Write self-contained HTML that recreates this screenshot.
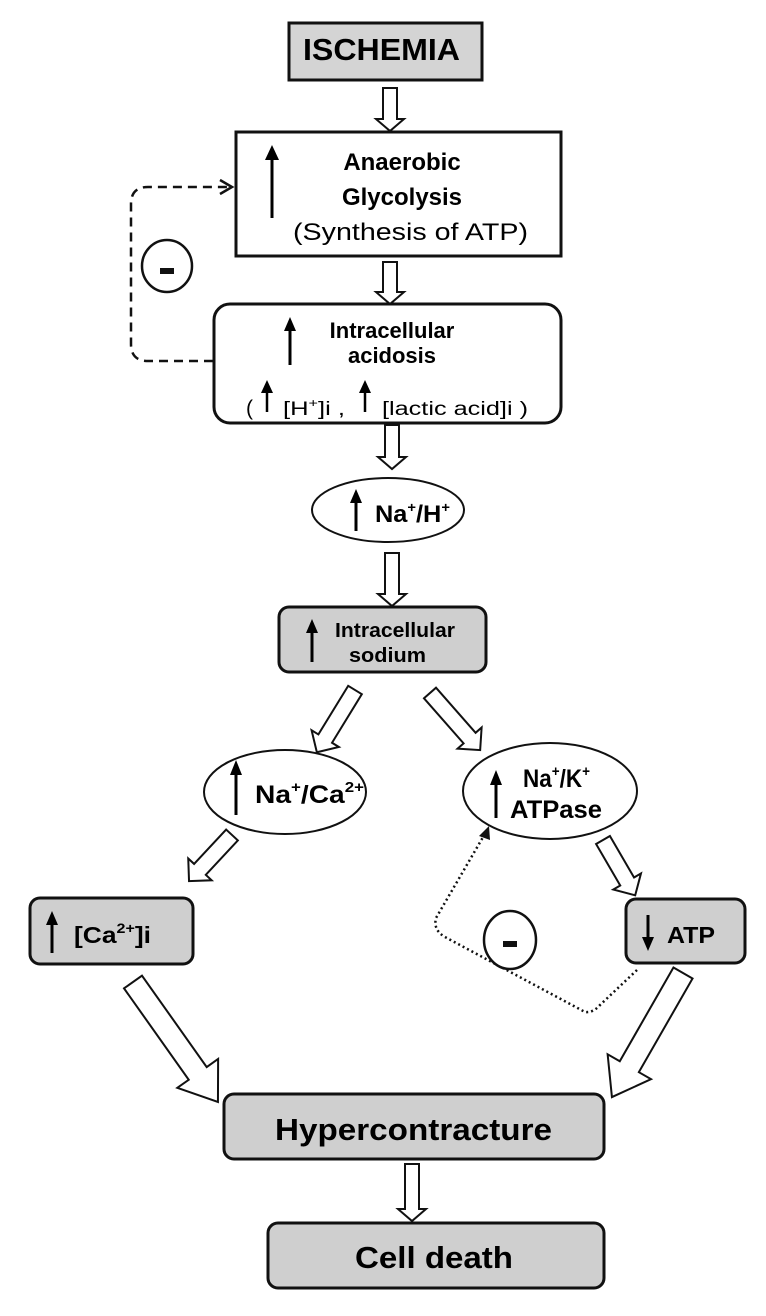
<!DOCTYPE html>
<html><head><meta charset="utf-8"><style>
html,body{margin:0;padding:0;background:#fff}
svg{display:block}
text{font-family:"Liberation Sans",Arial,sans-serif;fill:#000}
.b{font-weight:bold}
</style></head><body>
<svg width="766" height="1316" viewBox="0 0 766 1316" xmlns="http://www.w3.org/2000/svg">
<defs>
<g id="up"><line x1="0" y1="0" x2="0" y2="-1" /></g>
</defs>
<rect width="766" height="1316" fill="#fff"/>

<!-- ISCHEMIA -->
<rect x="289" y="23" width="193" height="57" fill="#d4d4d4" stroke="#111" stroke-width="3"/>
<text x="303" y="60" class="b" font-size="31" textLength="157" lengthAdjust="spacingAndGlyphs">ISCHEMIA</text>

<!-- vertical block arrows -->
<g fill="#fff" stroke="#111" stroke-width="2">
<g transform="translate(390,88)"><polygon points="-7,0 7,0 7,31 14,31 0,43 -14,31 -7,31"/></g>
<g transform="translate(390,262)"><polygon points="-7,0 7,0 7,30 14,30 0,42 -14,30 -7,30"/></g>
<g transform="translate(392,425)"><polygon points="-7,0 7,0 7,32 14,32 0,44 -14,32 -7,32"/></g>
<g transform="translate(392,553)"><polygon points="-7,0 7,0 7,41 14,41 0,53 -14,41 -7,41"/></g>
<g transform="translate(412,1164)"><polygon points="-7,0 7,0 7,45 14,45 0,57 -14,45 -7,45"/></g>
<!-- diagonal small -->
<g transform="translate(355,690) rotate(31.5)"><polygon points="-8,0 8,0 8,57 16,57 0,73 -16,57 -8,57"/></g>
<g transform="translate(430,693) rotate(-41.3)"><polygon points="-8,0 8,0 8,60 16,60 0,76 -16,60 -8,60"/></g>
<g transform="translate(232,835) rotate(43)"><polygon points="-8,0 8,0 8,47 16,47 0,63 -16,47 -8,47"/></g>
<g transform="translate(603,840) rotate(-30.2)"><polygon points="-8,0 8,0 8,48 16,48 0,64 -16,48 -8,48"/></g>
<!-- big -->
<g transform="translate(133,982) rotate(-35.3)"><polygon points="-11,0 11,0 11,112 25,112 0,147 -25,112 -11,112"/></g>
<g transform="translate(683,973) rotate(29.8)"><polygon points="-11,0 11,0 11,108 25,108 0,143 -25,108 -11,108"/></g>
</g>

<!-- Anaerobic box -->
<rect x="236" y="132" width="325" height="124" fill="#fff" stroke="#111" stroke-width="3"/>
<line x1="272" y1="218" x2="272" y2="156" stroke="#000" stroke-width="3"/>
<polygon points="272,145 265,160 279,160" fill="#000"/>
<text x="402" y="170" class="b" font-size="24" text-anchor="middle">Anaerobic</text>
<text x="402" y="205" class="b" font-size="24" text-anchor="middle">Glycolysis</text>
<text x="293" y="240" font-size="24" textLength="235" lengthAdjust="spacingAndGlyphs">(Synthesis of ATP)</text>

<!-- dashed feedback -->
<path d="M213 361 H148 Q131 361 131 344 V204 Q131 187 148 187 H230" fill="none" stroke="#111" stroke-width="2.5" stroke-dasharray="9,6"/>
<path d="M220 180 L232 187 L220 194" fill="none" stroke="#111" stroke-width="2.5"/>
<ellipse cx="167" cy="266" rx="25" ry="26" fill="#fff" stroke="#111" stroke-width="2.5"/>
<rect x="160" y="268" width="14" height="6" fill="#111"/>

<!-- Acidosis -->
<rect x="214" y="304" width="347" height="119" rx="16" fill="#fff" stroke="#111" stroke-width="3"/>
<line x1="290" y1="365" x2="290" y2="328" stroke="#000" stroke-width="3"/>
<polygon points="290,317 284,331 296,331" fill="#000"/>
<text x="392" y="338" class="b" font-size="22" text-anchor="middle">Intracellular</text>
<text x="392" y="363" class="b" font-size="22" text-anchor="middle">acidosis</text>
<text x="246" y="415" font-size="21">(</text>
<line x1="267" y1="412" x2="267" y2="390" stroke="#000" stroke-width="2.5"/>
<polygon points="267,380 261,393 273,393" fill="#000"/>
<text x="283" y="415" font-size="19" textLength="62" lengthAdjust="spacingAndGlyphs">[H<tspan font-size="12" dy="-8">+</tspan><tspan dy="8">]i ,</tspan></text>
<line x1="365" y1="412" x2="365" y2="390" stroke="#000" stroke-width="2.5"/>
<polygon points="365,380 359,393 371,393" fill="#000"/>
<text x="382" y="415" font-size="19" textLength="146" lengthAdjust="spacingAndGlyphs">[lactic acid]i )</text>

<!-- Na/H -->
<ellipse cx="388" cy="510" rx="76" ry="32" fill="#fff" stroke="#111" stroke-width="2"/>
<line x1="356" y1="531" x2="356" y2="500" stroke="#000" stroke-width="3"/>
<polygon points="356,489 350,503 362,503" fill="#000"/>
<text x="375" y="522" class="b" font-size="24" textLength="75" lengthAdjust="spacingAndGlyphs">Na<tspan font-size="14" dy="-10">+</tspan><tspan dy="10">/H</tspan><tspan font-size="14" dy="-10">+</tspan></text>

<!-- Intracellular sodium -->
<rect x="279" y="607" width="207" height="65" rx="10" fill="#cfcfcf" stroke="#111" stroke-width="3"/>
<line x1="312" y1="662" x2="312" y2="630" stroke="#000" stroke-width="3"/>
<polygon points="312,619 306,633 318,633" fill="#000"/>
<text x="335" y="637" class="b" font-size="20" textLength="120" lengthAdjust="spacingAndGlyphs">Intracellular</text>
<text x="349" y="662" class="b" font-size="20" textLength="77" lengthAdjust="spacingAndGlyphs">sodium</text>

<!-- Na/Ca -->
<ellipse cx="285" cy="792" rx="81" ry="42" fill="#fff" stroke="#111" stroke-width="2"/>
<line x1="236" y1="815" x2="236" y2="772" stroke="#000" stroke-width="3"/>
<polygon points="236,760 230,775 242,775" fill="#000"/>
<text x="255" y="803" class="b" font-size="25" textLength="109" lengthAdjust="spacingAndGlyphs">Na<tspan font-size="15" dy="-11">+</tspan><tspan dy="11">/Ca</tspan><tspan font-size="15" dy="-11">2+</tspan></text>

<!-- Na/K -->
<ellipse cx="550" cy="791" rx="87" ry="48" fill="#fff" stroke="#111" stroke-width="2"/>
<line x1="496" y1="818" x2="496" y2="782" stroke="#000" stroke-width="3"/>
<polygon points="496,770 490,785 502,785" fill="#000"/>
<text x="523" y="787" class="b" font-size="25" textLength="67" lengthAdjust="spacingAndGlyphs">Na<tspan font-size="15" dy="-11">+</tspan><tspan dy="11">/K</tspan><tspan font-size="15" dy="-11">+</tspan></text>
<text x="510" y="818" class="b" font-size="25" textLength="92" lengthAdjust="spacingAndGlyphs">ATPase</text>

<!-- Ca box -->
<rect x="30" y="898" width="163" height="66" rx="10" fill="#cfcfcf" stroke="#111" stroke-width="3"/>
<line x1="52" y1="953" x2="52" y2="922" stroke="#000" stroke-width="3"/>
<polygon points="52,911 46,925 58,925" fill="#000"/>
<text x="74" y="943" class="b" font-size="23" textLength="77" lengthAdjust="spacingAndGlyphs">[Ca<tspan font-size="14" dy="-10">2+</tspan><tspan dy="10">]i</tspan></text>

<!-- ATP box -->
<rect x="626" y="899" width="119" height="64" rx="10" fill="#cfcfcf" stroke="#111" stroke-width="3"/>
<line x1="648" y1="915" x2="648" y2="940" stroke="#000" stroke-width="3"/>
<polygon points="648,951 642,937 654,937" fill="#000"/>
<text x="667" y="943" class="b" font-size="23" textLength="48" lengthAdjust="spacingAndGlyphs">ATP</text>

<!-- dotted feedback -->
<path d="M637 970 L600 1005 Q593 1013 585 1012 L445 937 Q433 930 436 918 L486 832" fill="none" stroke="#111" stroke-width="2.5" stroke-dasharray="2,3"/>
<polygon points="489,826 479,836 490,840" fill="#111"/>
<ellipse cx="510" cy="940" rx="26" ry="29" fill="#fff" stroke="#111" stroke-width="2.5"/>
<rect x="503" y="941" width="14" height="6" fill="#111"/>

<!-- Hypercontracture -->
<rect x="224" y="1094" width="380" height="65" rx="10" fill="#cfcfcf" stroke="#111" stroke-width="3"/>
<text x="275" y="1140" class="b" font-size="31" textLength="277" lengthAdjust="spacingAndGlyphs">Hypercontracture</text>

<!-- Cell death -->
<rect x="268" y="1223" width="336" height="65" rx="10" fill="#cfcfcf" stroke="#111" stroke-width="3"/>
<text x="355" y="1268" class="b" font-size="31" textLength="158" lengthAdjust="spacingAndGlyphs">Cell death</text>
</svg>
</body></html>
